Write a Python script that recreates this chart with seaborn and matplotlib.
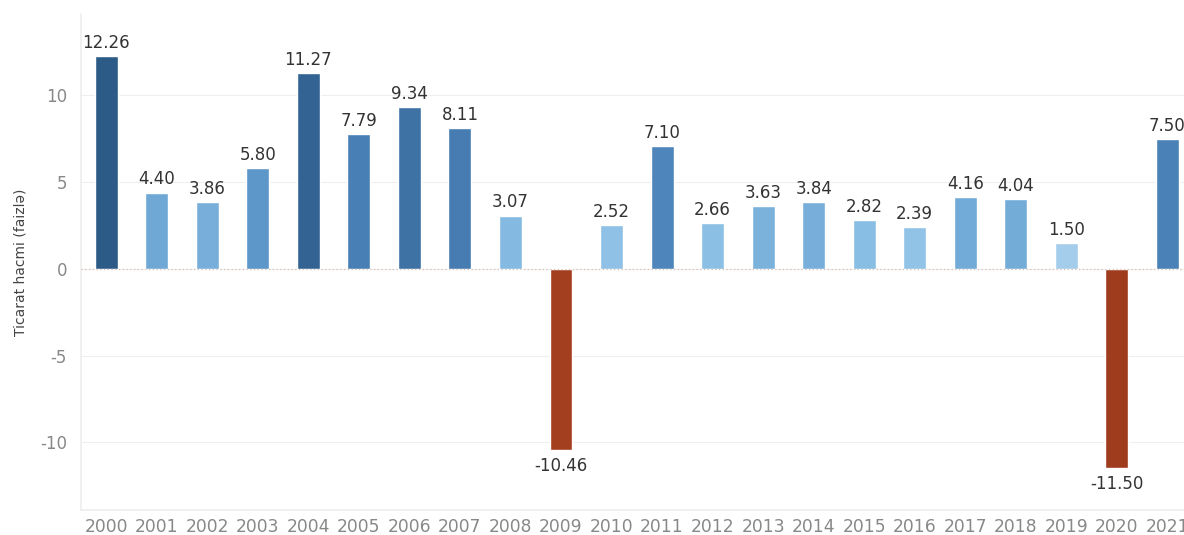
import matplotlib
matplotlib.use("Agg")
import matplotlib.pyplot as plt
import matplotlib.colors as mcolors
import seaborn as sns
import pandas as pd

# ========== data ==========
years = [str(y) for y in range(2000, 2022)]
values = [12.26, 4.40, 3.86, 5.80, 11.27, 7.79, 9.34, 8.11, 3.07, -10.46, 2.52,
          7.10, 2.66, 3.63, 3.84, 2.82, 2.39, 4.16, 4.04, 1.50, -11.50, 7.50]
ylabel = "Ticarat hacmi (faizlə)"

df = pd.DataFrame({"year": years, "value": values})

# colour by value, tableau-ish blue / orange
pos_cmap = mcolors.LinearSegmentedColormap.from_list(
    "pos", [(0, "#a3cdea"), (0.12, "#88bee3"), (0.27, "#6ea7d5"),
            (0.55, "#4a82b8"), (1, "#2c5b88")])
neg_cmap = mcolors.LinearSegmentedColormap.from_list("neg", ["#e6a27c", "#b2451f", "#a03c1e"])
pmin = min(v for v in values if v >= 0)
pmax = max(values)
nmin = min(values)
colors = []
for v in values:
    if v >= 0:
        colors.append(mcolors.to_hex(pos_cmap((v - pmin) / (pmax - pmin))))
    else:
        colors.append(mcolors.to_hex(neg_cmap(v / nmin)))

sns.set_theme(style="white")
plt.rcParams['font.family'] = ['DejaVu Sans']
plt.rcParams['axes.unicode_minus'] = False

fig = plt.figure(figsize=(11.84, 5.35), dpi=100)
ax = fig.add_axes([0.0684, 0.047, 0.9316, 0.927])

sns.barplot(data=df, x="year", y="value", hue="year", palette=colors,
            width=0.455, legend=False, ax=ax, saturation=1)

ax.set_xlim(-0.5, 21.33)
ax.set_ylim(-13.9, 14.7)
ax.set_yticks([-10, -5, 0, 5, 10])
ax.grid(axis="y", color="#efefef", linewidth=0.8)
ax.set_axisbelow(True)
ax.axhline(0, color="#d9bdb0", linestyle=(0, (1, 2)), linewidth=0.9, zorder=3)

for s in ["top", "right"]:
    ax.spines[s].set_visible(False)
ax.spines["left"].set_color("#eeeeee")
ax.spines["bottom"].set_color("#eeeeee")

ax.tick_params(axis="x", colors="#888888", labelsize=12.3, length=0, pad=6)
ax.tick_params(axis="y", colors="#888888", labelsize=12, length=0, pad=10)
ax.set_xlabel("")
ax.set_ylabel(ylabel, fontsize=10, color="#444444", labelpad=9)

for i, v in enumerate(values):
    if v >= 0:
        ax.annotate(f"{v:.2f}", (i, v), xytext=(0, 3), textcoords="offset points",
                    ha="center", va="bottom", fontsize=12, color="#333333")
    else:
        ax.annotate(f"{v:.2f}", (i, v), xytext=(0, -5), textcoords="offset points",
                    ha="center", va="top", fontsize=12, color="#333333")

fig.savefig("out.png", dpi=100)
